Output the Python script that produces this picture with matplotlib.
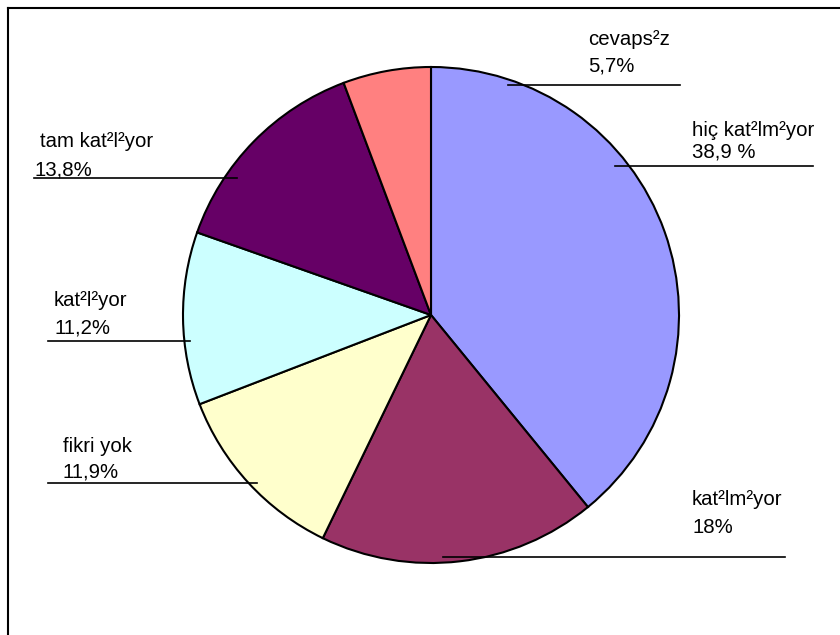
import matplotlib.pyplot as plt

categories = ['hiç kat²lm²yor', 'kat²lm²yor', 'fikri yok', 'kat²l²yor', 'tam kat²l²yor', 'cevaps²z']
values = [38.9, 18.0, 11.9, 11.2, 13.8, 5.7]
value_labels = ['38,9 %', '18%', '11,9%', '11,2%', '13,8%', '5,7%']
colors = ['#9999FF', '#993366', '#FFFFCC', '#CCFFFF', '#660066', '#FF8080']

W, H = 840, 635

def py(y):
    # pixel row (from top) -> data y
    return H - y

fig = plt.figure(figsize=(W / 100, H / 100), dpi=100)
fig.patch.set_facecolor('white')
ax = fig.add_axes([0, 0, 1, 1])

ax.pie(values, colors=colors, startangle=90, counterclock=False,
       center=(431, py(315)), radius=248,
       wedgeprops=dict(edgecolor='black', linewidth=1.5))

# label layout: (x, baseline line 1, baseline line 2, leader y, leader x0, leader x1)
layout = [
    (692, 136, 158, 166, 615, 813),
    (692, 505, 533, 557, 443, 785),
    (63, 452, 478, 483, 48, 257),
    (54, 306, 333, 341, 48, 190),
    (34, 147, 175, 178, 34, 237),
    (588, 45, 72, 85, 508, 680),
]

font = dict(family=['Liberation Sans', 'DejaVu Sans'], fontsize=14.7, color='black')
for name, val, (x, b1, b2, ly, lx0, lx1) in zip(categories, value_labels, layout):
    x1 = x + 6 if name == 'tam kat²l²yor' else x
    ax.text(x1, py(b1), name, ha='left', va='baseline', **font)
    ax.text(x, py(b2), val, ha='left', va='baseline', **font)
    ax.plot([lx0, lx1], [py(ly), py(ly)], color='black', linewidth=1.2)

# chart frame (only the left and top edges are visible)
ax.plot([8, 8], [0, py(8)], color='black', linewidth=1.5)
ax.plot([8, W], [py(8), py(8)], color='black', linewidth=1.5)

ax.set_xlim(0, W)
ax.set_ylim(0, H)
ax.set_aspect('equal')
ax.axis('off')

plt.savefig('out.png', dpi=100, facecolor='white')
plt.close()
